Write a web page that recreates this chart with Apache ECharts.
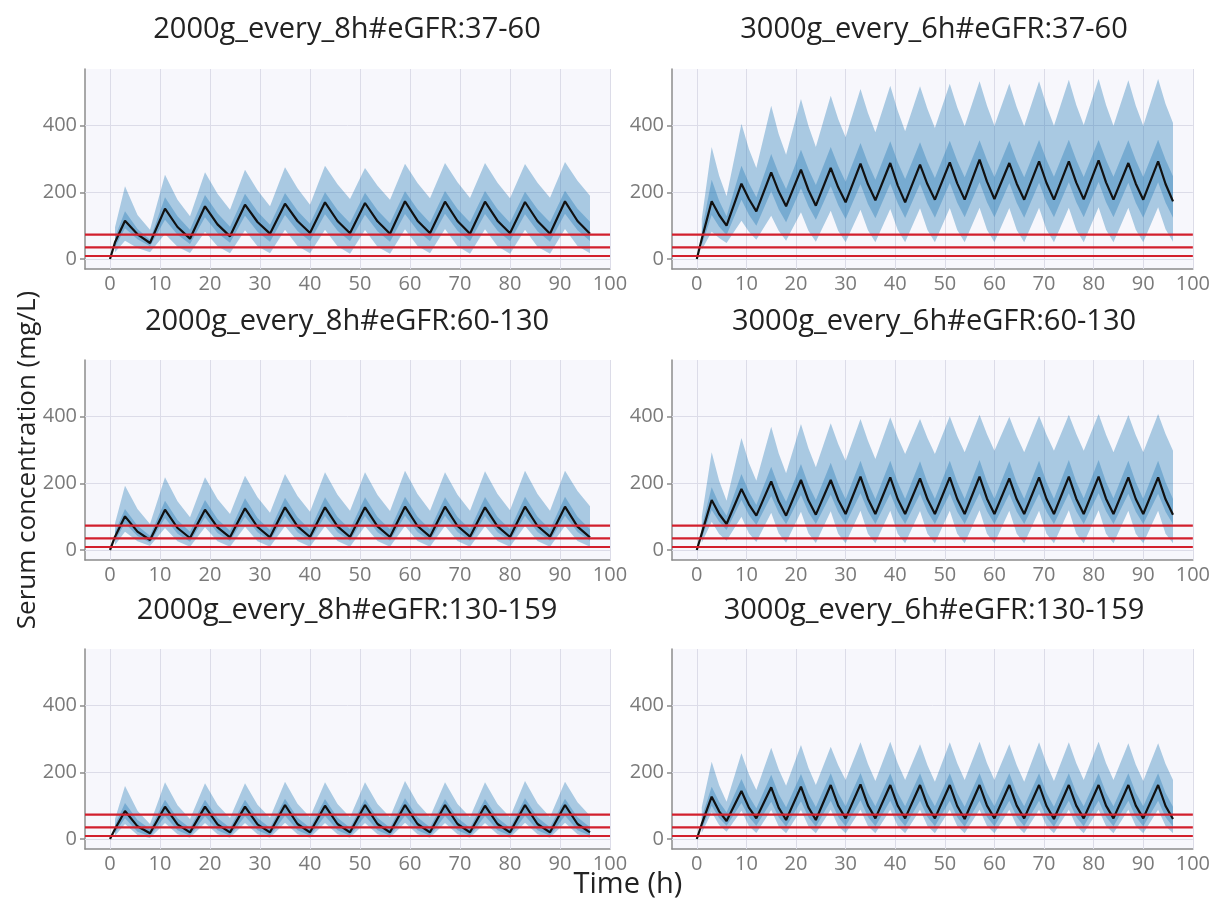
<!DOCTYPE html>
<html><head><meta charset="utf-8">
<script src="https://cdn.jsdelivr.net/npm/echarts@6/dist/echarts.min.js"></script>
<style>html,body{margin:0;padding:0;background:#fff}#c{width:1213px;height:903px}</style>
</head><body><div id="c"></div>
<script>
// ---------- data ----------
const panelTitles = [
  '2000g_every_8h#eGFR:37-60', '3000g_every_6h#eGFR:37-60',
  '2000g_every_8h#eGFR:60-130', '3000g_every_6h#eGFR:60-130',
  '2000g_every_8h#eGFR:130-159', '3000g_every_6h#eGFR:130-159'
];
const xTicks = [0,10,20,30,40,50,60,70,80,90,100];
const yTicks = [0,200,400];
const thresholds = [9, 35, 73];
const X_MIN = -5, X_MAX = 100;

// sample times (h)
const T8 = [1, 3,5.5,8, 11,13.5,16, 19,21.5,24, 27,29.5,32, 35,37.5,40, 43,45.5,48, 51,53.5,56, 59,61.5,64, 67,69.5,72, 75,77.5,80, 83,85.5,88, 91,93.5,96];
const T6 = [1, 3,4.5,6, 9,10.5,12, 15,16.5,18, 21,22.5,24, 27,28.5,30, 33,34.5,36, 39,40.5,42, 45,46.5,48, 51,52.5,54, 57,58.5,60, 63,64.5,66, 69,70.5,72, 75,76.5,78, 81,82.5,84, 87,88.5,90, 93,94.5,96];
const T8m = [0].concat(T8);
const T6m = [0].concat(T6);

// Panel A: 2000g q8h, eGFR 37-60
const A_p95 = [95, 218,132,88, 253,178,128, 260,196,148, 268,206,158, 275,212,163, 280,224,180, 273,220,178, 286,228,182, 288,230,183, 288,229,182, 285,229,184, 291,235,190];
const A_p75 = [65, 143,90,58, 185,128,88, 192,137,97, 196,142,103, 198,145,106, 200,147,108, 199,146,107, 203,149,109, 204,150,110, 204,149,109, 202,149,110, 205,151,112];
const A_med = [0, 50, 115,74,48, 151,96,61, 158,104,68, 163,111,76, 166,114,78, 170,114,77, 168,113,76, 173,115,77, 172,114,76, 172,115,77, 171,114,76, 173,114,76];
const A_p25 = [35, 92,59,38, 118,73,45, 125,78,49, 130,82,52, 132,84,53, 134,85,53, 133,83,52, 135,85,53, 136,85,53, 135,85,53, 134,83,52, 136,86,54];
const A_p5  = [20, 55,33,20, 75,37,18, 82,38,17, 86,38,17, 88,39,17, 88,38,16, 87,37,16, 89,39,17, 90,38,16, 89,38,16, 88,37,16, 90,39,17];

// Panel B: 3000g q6h, eGFR 37-60
const B_p95 = [120, 336,250,188, 406,330,273, 460,375,313, 480,400,336, 490,420,365, 510,438,380, 520,445,383, 518,450,393, 526,455,398, 533,460,400, 526,455,398, 533,460,400, 538,462,402, 540,462,400, 536,460,400, 540,465,408];
const B_p75 = [85, 238,175,128, 280,228,185, 315,257,210, 328,270,222, 336,279,232, 348,288,238, 353,291,240, 350,292,243, 355,295,245, 356,296,246, 354,294,245, 357,297,247, 358,297,246, 357,297,247, 356,296,246, 358,298,248];
const B_med = [0, 60, 173,132,100, 226,180,143, 260,203,158, 268,207,160, 273,215,170, 286,224,176, 288,221,170, 283,224,178, 290,227,178, 298,232,180, 288,226,178, 293,228,178, 293,229,179, 296,230,178, 288,226,178, 293,225,173];
const B_p25 = [42, 132,97,72, 178,133,100, 203,149,110, 212,158,118, 218,162,120, 224,165,122, 226,167,123, 225,167,124, 228,169,125, 230,170,125, 228,168,124, 229,169,125, 230,170,125, 231,170,125, 229,168,124, 230,169,124];
const B_p5  = [28, 82,63,48, 115,82,58, 130,85,55, 140,85,52, 145,85,50, 148,86,50, 150,87,50, 152,87,50, 153,87,50, 154,88,50, 153,87,50, 154,88,50, 154,88,50, 155,88,50, 154,88,50, 155,89,52];

// Panel C: 2000g q8h, eGFR 60-130
const C_p95 = [80, 193,123,78, 218,146,98, 218,153,108, 223,158,112, 228,162,115, 233,166,118, 233,165,117, 238,168,118, 233,166,118, 236,168,119, 238,168,118, 238,177,131];
const C_p75 = [55, 123,73,43, 148,90,55, 150,93,58, 155,96,60, 157,98,61, 158,99,62, 158,99,62, 160,100,62, 158,99,62, 159,99,62, 160,100,62, 160,100,62];
const C_med = [0, 40, 101,55,30, 121,66,36, 121,68,38, 125,69,38, 128,71,39, 128,71,39, 128,71,39, 130,72,40, 130,72,40, 128,71,39, 130,72,40, 130,70,38];
const C_p25 = [28, 80,42,22, 96,49,25, 98,51,27, 100,53,28, 102,53,28, 102,53,28, 102,53,28, 103,54,28, 103,54,28, 102,53,28, 103,54,28, 103,54,28];
const C_p5  = [15, 55,26,12, 66,26,10, 68,26,10, 70,26,10, 71,27,10, 71,27,10, 71,27,10, 72,27,10, 72,27,10, 71,27,10, 72,27,10, 72,27,10];

// Panel D: 3000g q6h, eGFR 60-130
const D_p95 = [100, 293,208,148, 336,262,208, 370,290,230, 378,305,248, 380,318,268, 393,328,273, 398,338,288, 393,336,288, 401,342,293, 406,347,298, 400,342,293, 403,346,298, 406,348,298, 408,346,293, 405,344,293, 408,348,298];
const D_p75 = [70, 188,138,103, 228,175,135, 250,190,145, 258,196,150, 262,200,152, 268,203,153, 268,203,154, 266,202,154, 268,203,154, 270,204,154, 266,202,154, 268,203,154, 270,204,155, 270,204,155, 268,203,154, 268,203,153];
const D_med = [0, 50, 150,108,78, 183,137,103, 206,146,103, 210,149,106, 210,151,108, 220,154,108, 218,153,108, 215,152,108, 218,153,108, 220,154,108, 215,152,108, 218,153,108, 220,154,108, 220,154,108, 218,153,108, 218,152,106];
const D_p25 = [35, 120,85,60, 150,105,75, 162,112,77, 165,113,78, 166,114,78, 170,116,78, 169,115,78, 168,115,78, 169,115,78, 170,116,78, 168,115,78, 169,115,78, 170,116,78, 170,116,78, 169,115,78, 169,115,77];
const D_p5  = [22, 85,48,28, 100,50,24, 112,50,22, 115,50,21, 116,49,20, 118,49,20, 118,49,20, 117,49,20, 118,49,20, 119,49,20, 118,49,20, 118,49,20, 119,49,20, 119,49,20, 118,49,20, 118,49,20];

// Panel E: 2000g q8h, eGFR 130-159
const E_p95 = [60, 159,85,45, 170,101,60, 167,103,63, 167,103,64, 172,106,65, 170,105,65, 170,105,65, 174,107,66, 170,105,65, 170,105,65, 174,107,66, 172,110,70];
const E_p75 = [42, 108,57,30, 118,62,33, 118,63,34, 118,63,34, 121,64,34, 120,64,34, 120,64,34, 122,65,35, 120,64,34, 120,64,34, 122,65,35, 121,65,35];
const E_med = [0, 30, 84,38,17, 97,44,20, 97,44,20, 97,44,20, 102,45,20, 100,45,20, 102,45,20, 102,45,20, 102,45,20, 100,45,20, 102,45,20, 102,45,20];
const E_p25 = [18, 62,22,8, 68,26,10, 68,26,10, 68,26,10, 70,26,10, 69,26,10, 69,26,10, 70,26,10, 69,26,10, 69,26,10, 70,26,10, 70,26,10];
const E_p5  = [10, 45,12,3, 48,14,4, 48,14,4, 48,14,4, 49,14,4, 48,14,4, 48,14,4, 49,14,4, 48,14,4, 48,14,4, 49,14,4, 49,14,4];

// Panel F: 3000g q6h, eGFR 130-159
const F_p95 = [95, 232,161,112, 257,194,147, 274,209,160, 282,214,162, 277,221,177, 290,225,174, 292,227,177, 284,221,172, 290,227,177, 292,227,177, 284,221,172, 290,225,174, 290,227,177, 292,227,177, 287,223,174, 287,225,177];
const F_p75 = [65, 157,112,80, 180,129,92, 193,135,95, 195,137,96, 197,139,98, 198,139,98, 197,139,98, 197,139,98, 197,138,97, 197,139,98, 197,139,98, 197,138,97, 197,139,98, 197,139,98, 197,139,98, 197,138,97];
const F_med = [0, 45, 127,83,54, 144,94,62, 155,94,57, 157,95,57, 162,100,62, 164,101,62, 162,100,62, 162,100,62, 162,99,60, 162,100,62, 162,100,62, 162,99,60, 162,100,62, 162,100,62, 162,100,62, 162,99,60];
const F_p25 = [30, 100,63,40, 108,66,40, 112,65,37, 113,65,37, 115,66,38, 116,66,38, 115,66,38, 115,66,38, 115,65,37, 115,66,38, 115,66,38, 115,65,37, 115,66,38, 115,66,38, 115,66,38, 115,65,37];
const F_p5  = [18, 80,42,22, 85,39,18, 87,38,17, 87,38,17, 88,39,17, 88,39,17, 88,39,17, 88,39,17, 88,39,17, 88,39,17, 88,39,17, 88,39,17, 88,39,17, 88,39,17, 88,39,17, 88,39,17];

// ---------- chart ----------
const panels = [
  {T:T8, Tm:T8m, p5:A_p5, p25:A_p25, med:A_med, p75:A_p75, p95:A_p95},
  {T:T6, Tm:T6m, p5:B_p5, p25:B_p25, med:B_med, p75:B_p75, p95:B_p95},
  {T:T8, Tm:T8m, p5:C_p5, p25:C_p25, med:C_med, p75:C_p75, p95:C_p95},
  {T:T6, Tm:T6m, p5:D_p5, p25:D_p25, med:D_med, p75:D_p75, p95:D_p95},
  {T:T8, Tm:T8m, p5:E_p5, p25:E_p25, med:E_med, p75:E_p75, p95:E_p95},
  {T:T6, Tm:T6m, p5:F_p5, p25:F_p25, med:F_med, p75:F_p75, p95:F_p95}
];
const gridPos = [
  {left:85, top:69}, {left:672, top:69},
  {left:85, top:360}, {left:672, top:360},
  {left:85, top:649}, {left:672, top:649}
];
const titlePos = [[347,30],[934,30],[347,322],[934,322],[347,611],[934,611]];
const FONT = '"Open Sans", "Noto Sans", sans-serif';
const BAND = 'rgba(31,119,180,0.36)';
const AXIS_COLOR = '#8c8c8c';

const grids = [], xAxes = [], yAxes = [], series = [], graphics = [];
panels.forEach((p, i) => {
  grids.push({left: gridPos[i].left, top: gridPos[i].top, width: 525, height: 200,
    show: true, backgroundColor: '#f7f7fc', borderWidth: 0});
  xAxes.push({type: 'value', gridIndex: i, min: X_MIN, max: X_MAX,
    axisLine: {show: true, onZero: false, lineStyle: {color: AXIS_COLOR, width: 1.5}},
    axisTick: {show: false},
    splitLine: {show: false},
    axisLabel: {customValues: xTicks, color: '#7a7a7a', fontSize: 20, fontFamily: FONT, margin: 5}
  });
  yAxes.push({type: 'value', gridIndex: i, min: -30, max: 570,
    axisLine: {show: true, onZero: false, lineStyle: {color: AXIS_COLOR, width: 1.5}},
    axisTick: {show: true, customValues: yTicks, length: 5, lineStyle: {color: AXIS_COLOR, width: 1.5}},
    splitLine: {show: false},
    axisLabel: {customValues: yTicks, color: '#7a7a7a', fontSize: 20, fontFamily: FONT, margin: 8}
  });
  // bands
  series.push({
    type: 'custom', xAxisIndex: i, yAxisIndex: i, z: 2, silent: true, clip: true,
    data: [[p.T[0], p.p5[0]]],
    renderItem: function (params, api) {
      const poly = (lo, hi) => {
        const up = p.T.map((t, k) => api.coord([t, hi[k]]));
        const dn = p.T.map((t, k) => api.coord([t, lo[k]])).reverse();
        return up.concat(dn);
      };
      return {type: 'group', children: [
        {type: 'polygon', shape: {points: poly(p.p5, p.p95)}, style: {fill: BAND}},
        {type: 'polygon', shape: {points: poly(p.p25, p.p75)}, style: {fill: BAND}}
      ]};
    }
  });
  // median with gridlines as markLine underneath
  series.push({
    type: 'line', xAxisIndex: i, yAxisIndex: i, z: 3, silent: true,
    data: p.Tm.map((t, k) => [t, p.med[k]]),
    showSymbol: false, symbol: 'none',
    lineStyle: {color: '#111', width: 2.2},
    markLine: {
      z: 1, silent: true, symbol: 'none', animation: false,
      label: {show: false},
      lineStyle: {color: '#dcdce8', width: 1, type: 'solid'},
      emphasis: {disabled: true},
      data: xTicks.map(x => ({xAxis: x})).concat(yTicks.map(y => ({yAxis: y})))
    }
  });
  thresholds.forEach(v => {
    series.push({
      type: 'line', xAxisIndex: i, yAxisIndex: i, z: 4, silent: true,
      data: [[X_MIN, v], [X_MAX, v]], showSymbol: false, symbol: 'none',
      lineStyle: {color: '#d21f2c', width: 2.2}
    });
  });
  graphics.push({type: 'text', x: titlePos[i][0], y: titlePos[i][1],
    style: {text: panelTitles[i], font: '29px ' + FONT, fill: '#222', textAlign: 'center', textVerticalAlign: 'middle'}});
});
graphics.push({type: 'text', x: 28, y: 460, rotation: Math.PI / 2,
  style: {text: 'Serum concentration (mg/L)', font: '26px ' + FONT, fill: '#222', textAlign: 'center', textVerticalAlign: 'middle'}});
graphics.push({type: 'text', x: 628, y: 885,
  style: {text: 'Time (h)', font: '29px ' + FONT, fill: '#222', textAlign: 'center', textVerticalAlign: 'middle'}});

const chart = echarts.init(document.getElementById('c'), null, {renderer: 'canvas'});
chart.setOption({
  animation: false,
  backgroundColor: '#ffffff',
  grid: grids, xAxis: xAxes, yAxis: yAxes, series: series, graphic: graphics
});
</script>
</body></html>
